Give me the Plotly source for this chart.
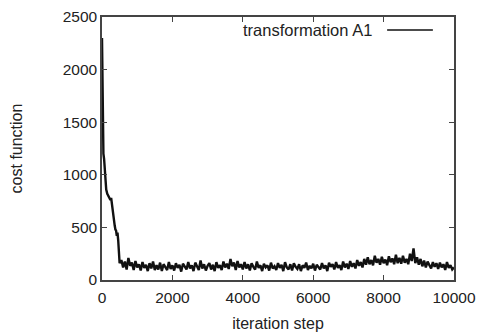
import plotly.graph_objects as go

# early phase (fine steps)
early_steps = [0, 10, 20, 30, 40, 60, 80, 100, 120, 150, 180, 210, 240, 260, 280,
               300, 320, 340, 360, 380, 400, 420, 440, 460, 480, 500]
early_cost = [2300, 1900, 1600, 1350, 1200, 1150, 1050, 950, 860, 820, 800, 790, 760,
              780, 720, 650, 600, 560, 520, 480, 470, 420, 450, 380, 300, 160]

# steady phase, every 50 steps from 550 to 10000
late_steps = list(range(550, 10001, 50))
late_cost = [
    190, 120, 175, 100, 210, 135, 165, 95, 180, 120,
    150, 90, 170, 115, 145, 85, 160, 110, 175, 95,
    140, 100, 165, 85, 150, 120, 95, 170, 105, 140,
    90, 160, 115, 145, 80, 155, 125, 100, 170, 110,
    140, 85, 165, 120, 95, 185, 110, 150, 90, 135,
    160, 100, 145, 85, 170, 115, 140, 95, 175, 120,
    155, 105, 200, 130, 165, 95, 180, 120, 150, 100,
    170, 110, 150, 90, 160, 125, 100, 175, 115, 140,
    85, 155, 120, 140, 90, 165, 110, 130, 95, 160,
    115, 145, 85, 170, 120, 100, 150, 90, 160, 125,
    105, 150, 85, 140, 115, 165, 95, 135, 110, 155,
    90, 145, 120, 100, 160, 110, 140, 85, 165, 125,
    150, 100, 170, 115, 140, 95, 175, 120, 155, 105,
    180, 125, 160, 110, 190, 135, 170, 120, 200, 145,
    215, 150, 190, 140, 230, 165, 200, 145, 220, 160,
    195, 140, 225, 170, 205, 150, 240, 160, 210, 155,
    230, 165, 200, 150, 250, 180, 300, 160, 215, 145,
    200, 130, 185, 120, 175, 140, 110, 170, 125, 160,
    105, 165, 120, 150, 95, 170, 115, 140, 100, 120,
]

x_ticks = [0, 2000, 4000, 6000, 8000, 10000]
x_tick_text = ["0", "2000", "4000", "6000", "8000", "10000"]
y_ticks = [0, 500, 1000, 1500, 2000, 2500]
y_tick_text = ["0", "500", "1000", "1500", "2000", "2500"]
series_name = "transformation A1"

steps = early_steps + late_steps
cost = early_cost + late_cost

fig = go.Figure()
fig.add_trace(go.Scatter(x=steps, y=cost, mode="lines", name=series_name,
                         line=dict(color="#111111", width=2.4), showlegend=False))

font = dict(family="Liberation Sans, Arial, sans-serif", size=15.5, color="#222222")

axis_common = dict(showgrid=False, zeroline=False, showline=True, linecolor="#444444",
                   linewidth=1.5, mirror="allticks", ticks="inside", ticklen=5,
                   tickcolor="#444444", tickwidth=1, tickfont=font, automargin=False)

fig.update_layout(
    width=487, height=336,
    margin=dict(l=94, r=41, t=9, b=64),
    plot_bgcolor="white", paper_bgcolor="white",
    font=font,
    xaxis=dict(range=[0, 10000], tickvals=x_ticks, ticktext=x_tick_text,
               ticklabelstandoff=3,
               title=dict(text="iteration step", font=dict(size=16), standoff=12),
               **axis_common),
    yaxis=dict(range=[0, 2500], tickvals=y_ticks, ticktext=y_tick_text,
               title=dict(text="cost function", font=dict(size=16), standoff=37),
               **axis_common),
)

# gnuplot-style key: text on the left, sample line on the right
fig.add_annotation(xref="paper", yref="paper", x=0.773, y=0.951, xanchor="right",
                   yanchor="middle", text=series_name, showarrow=False,
                   font=dict(size=16.5))
fig.add_shape(type="line", xref="paper", yref="paper", x0=0.81, x1=0.94,
              y0=0.951, y1=0.951, line=dict(color="#111111", width=1.5))

fig.write_html("out.html")
